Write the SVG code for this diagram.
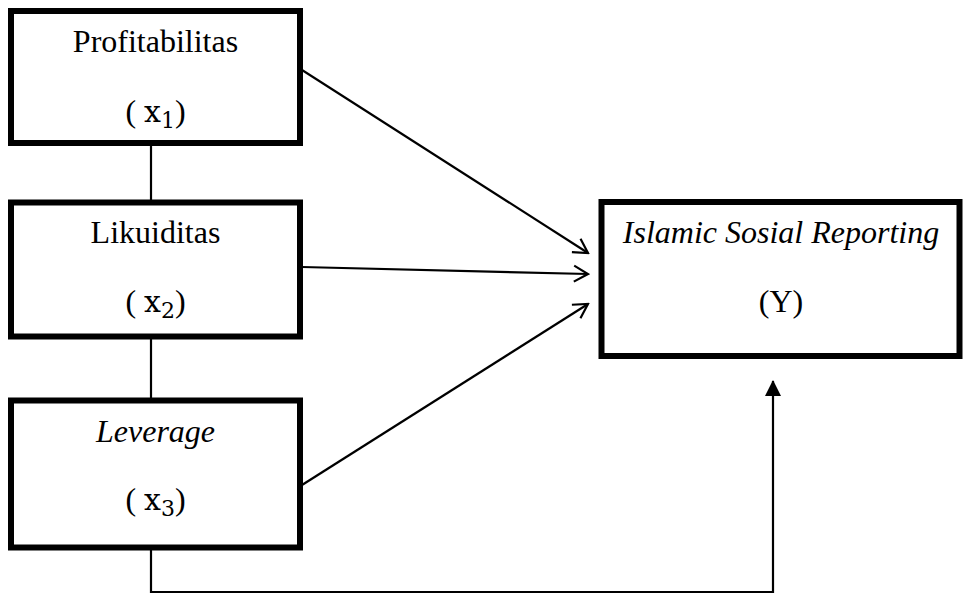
<svg xmlns="http://www.w3.org/2000/svg" width="968" height="594" viewBox="0 0 968 594">
<style>
.box{fill:#fff;stroke:#000;stroke-width:6}
.t{font-family:"Liberation Serif","Times New Roman",serif;font-size:32px;fill:#000;text-anchor:middle}
.i{font-style:italic}
.m{font-family:"DejaVu Serif","Liberation Serif",serif;font-size:30px}
.s{font-family:"DejaVu Serif","Liberation Serif",serif;font-size:22px}
.ln{fill:none;stroke:#000;stroke-width:2.2}
</style>
<defs>
<marker id="open" viewBox="0 0 20 20" refX="18" refY="10" markerWidth="20" markerHeight="20" markerUnits="userSpaceOnUse" orient="auto">
<path d="M4,2 L18,10 L4,18" fill="none" stroke="#000" stroke-width="2.2"/>
</marker>
<marker id="solid" viewBox="0 0 16 16" refX="15" refY="8" markerWidth="16" markerHeight="16" markerUnits="userSpaceOnUse" orient="auto">
<path d="M0,0 L16,8 L0,16 Z" fill="#000"/>
</marker>
</defs>
<g id="connectors">
<line class="ln" x1="151" y1="146" x2="151" y2="200"/>
<line class="ln" x1="151" y1="339" x2="151" y2="398"/>
<line class="ln" x1="302" y1="70" x2="588" y2="253" marker-end="url(#open)"/>
<line class="ln" x1="302" y1="267" x2="588" y2="274" marker-end="url(#open)"/>
<line class="ln" x1="302" y1="485" x2="588" y2="304" marker-end="url(#open)"/>
<polyline class="ln" points="151,550 151,592 773,592 773,381" marker-end="url(#solid)"/>
</g>
<g id="x1">
<rect class="box" x="11" y="11" width="289" height="132"/>
<text class="t" x="155.5" y="52">Profitabilitas</text>
<text class="t" x="155.5" y="122">( <tspan class="m">x</tspan><tspan class="s" dy="6">1</tspan><tspan dy="-6">)</tspan></text>
</g>
<g id="x2">
<rect class="box" x="11" y="202.5" width="289" height="134"/>
<text class="t" x="155.5" y="243">Likuiditas</text>
<text class="t" x="155.5" y="312">( <tspan class="m">x</tspan><tspan class="s" dy="6">2</tspan><tspan dy="-6">)</tspan></text>
</g>
<g id="x3">
<rect class="box" x="11" y="400.5" width="289" height="147"/>
<text class="t i" x="155.5" y="442">Leverage</text>
<text class="t" x="155.5" y="510">( <tspan class="m">x</tspan><tspan class="s" dy="6">3</tspan><tspan dy="-6">)</tspan></text>
</g>
<g id="y">
<rect class="box" x="601.5" y="202" width="358" height="154"/>
<text class="t i" x="781" y="243">Islamic Sosial Reporting</text>
<text class="t" x="781" y="312">(Y)</text>
</g>
</svg>
